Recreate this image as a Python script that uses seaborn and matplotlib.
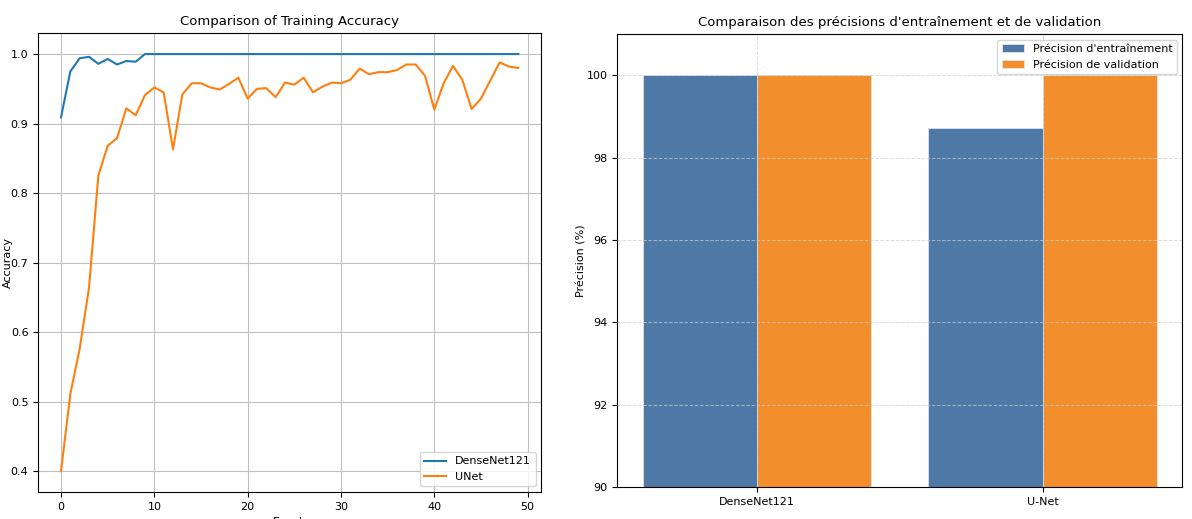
import matplotlib
matplotlib.use("Agg")
import matplotlib.pyplot as plt
import seaborn as sns
import pandas as pd

# training accuracy per epoch
epochs = list(range(50))
densenet_acc = [0.909, 0.975, 0.994, 0.996, 0.986, 0.993, 0.985, 0.990, 0.989, 1.0] + [1.0] * 40
unet_acc = [0.400, 0.511, 0.576, 0.664, 0.825, 0.868, 0.879, 0.922, 0.912, 0.941,
            0.952, 0.945, 0.863, 0.942, 0.958, 0.958, 0.952, 0.949, 0.957, 0.966,
            0.936, 0.950, 0.951, 0.938, 0.959, 0.956, 0.966, 0.945, 0.953, 0.959,
            0.958, 0.963, 0.979, 0.971, 0.974, 0.974, 0.977, 0.985, 0.985, 0.969,
            0.920, 0.958, 0.983, 0.963, 0.921, 0.936, 0.962, 0.988, 0.982, 0.980]

# final accuracies (%)
models = ['DenseNet121', 'U-Net']
train_prec = [100.0, 98.72]
val_prec = [100.0, 100.0]
series_names = ["Précision d'entraînement", "Précision de validation"]

plt.rcParams['font.family'] = ['DejaVu Sans']
plt.rcParams['font.size'] = 8

curves = pd.concat([
    pd.DataFrame({'Epoch': epochs, 'Accuracy': densenet_acc, 'Model': 'DenseNet121'}),
    pd.DataFrame({'Epoch': epochs, 'Accuracy': unet_acc, 'Model': 'UNet'}),
])
bars = pd.DataFrame({
    'Model': models * 2,
    'Precision': train_prec + val_prec,
    'Type': [series_names[0]] * 2 + [series_names[1]] * 2,
})

fig = plt.figure(figsize=(11.92, 5.19), dpi=100)
ax1 = fig.add_axes([0.032, 0.052, 0.422, 0.884])
ax2 = fig.add_axes([0.518, 0.062, 0.474, 0.872])

# left: training curves
sns.lineplot(data=curves, x='Epoch', y='Accuracy', hue='Model',
             palette=['#1f77b4', '#ff7f0e'], linewidth=1.5, ax=ax1)
ax1.set_title('Comparison of Training Accuracy', fontsize=9.5)
ax1.set_xlabel('Epoch')
ax1.set_ylabel('Accuracy')
ax1.yaxis.set_label_coords(-0.05, 0.5)
ax1.grid(True, color='#c0c0c0', linewidth=0.8)
ax1.legend(loc='lower right', fontsize=8)

# right: train vs validation precision
sns.barplot(data=bars, x='Model', y='Precision', hue='Type',
            palette=['#4e79a7', '#f28e2b'], saturation=1, edgecolor='#dde4ee',
            linewidth=0.6, width=0.8, ax=ax2)
ax2.set_ylim(90, 101)
ax2.set_xlim(-0.49, 1.49)
ax2.set_title("Comparaison des précisions d'entraînement et de validation", fontsize=9.5)
ax2.set_xlabel('')
ax2.set_ylabel('Précision (%)', fontsize=8)
ax2.yaxis.set_label_coords(-0.055, 0.5)
ax2.set_axisbelow(False)
ax2.grid(True, linestyle='--', color='#cccccc', linewidth=0.7, alpha=0.7)
ax2.legend(loc='upper right', fontsize=8)

fig.savefig('out.png', dpi=100)
